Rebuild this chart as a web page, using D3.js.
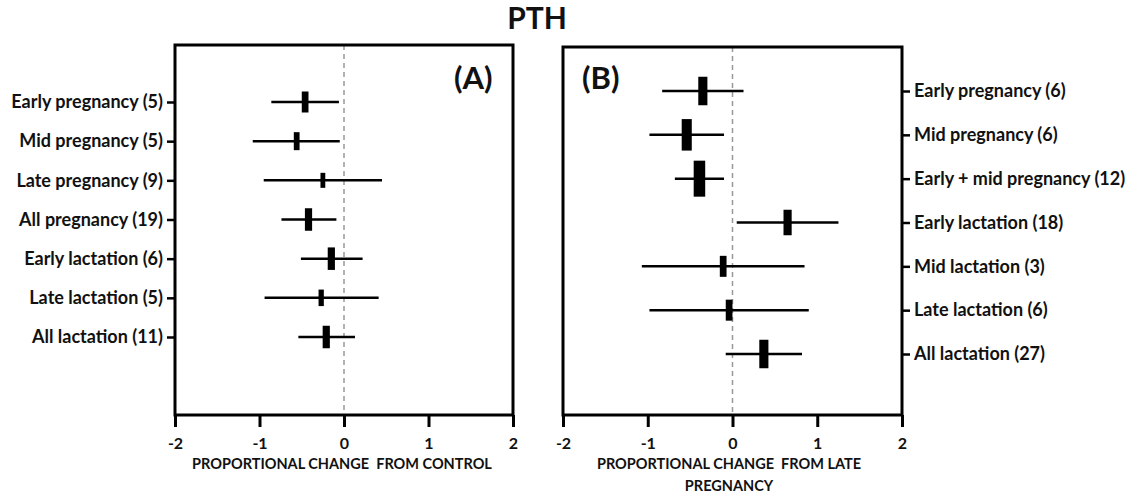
<html>
<head><meta charset="utf-8"></head>
<script src="https://d3js.org/d3.v7.min.js"></script>
<style>
  body { margin: 0; background: #fff; }
  text { font-family: Lato, "Open Sans", sans-serif; font-weight: bold; fill: #111; }
</style>
<body>
<svg id="chart" width="1131" height="495"></svg>
<script>
// Panel A: change from control
var groupsA = ["Early pregnancy (5)", "Mid pregnancy (5)", "Late pregnancy (9)", "All pregnancy (19)",
               "Early lactation (6)", "Late lactation (5)", "All lactation (11)"];
var estA   = [-0.46, -0.56, -0.25, -0.42, -0.15, -0.27, -0.21];
var lowA   = [-0.86, -1.08, -0.95, -0.74, -0.51, -0.94, -0.54];
var highA  = [-0.06, -0.05,  0.45, -0.09,  0.22,  0.41,  0.13];
var weightA = [14, 12, 10, 15, 15, 11, 15];

// Panel B: change from late pregnancy
var groupsB = ["Early pregnancy (6)", "Mid pregnancy (6)", "Early + mid pregnancy (12)", "Early lactation (18)",
               "Mid lactation (3)", "Late lactation (6)", "All lactation (27)"];
var estB   = [-0.35, -0.54, -0.39,  0.65, -0.11, -0.04,  0.37];
var lowB   = [-0.83, -0.98, -0.68,  0.05, -1.07, -0.98, -0.08];
var highB  = [ 0.13, -0.10, -0.10,  1.25,  0.85,  0.90,  0.82];
var weightB = [19, 21, 24, 17, 14, 14, 19];

var xTicks = [-2, -1, 0, 1, 2];

var svg = d3.select("#chart");

svg.append("text")
  .attr("x", 537).attr("y", 29)
  .attr("text-anchor", "middle")
  .style("font-size", "30px")
  .text("PTH");

var hScale = d3.scaleLinear().domain([0, 10]).range([0, 15]);

function panel(opt) {
  var x = d3.scaleLinear().domain([-2, 2]).range([opt.left, opt.right]);
  var y = d3.scalePoint().domain(opt.groups).range(opt.rows);
  var g = svg.append("g");

  // zero reference line
  g.append("line")
    .attr("x1", x(0)).attr("x2", x(0))
    .attr("y1", opt.top).attr("y2", opt.bottom)
    .attr("stroke", "#999").attr("stroke-width", 1.5)
    .attr("stroke-dasharray", "5,4");

  var rows = g.selectAll(".row").data(opt.groups).enter().append("g");
  rows.append("line")
    .attr("x1", function(d, i) { return x(opt.low[i]); })
    .attr("x2", function(d, i) { return x(opt.high[i]); })
    .attr("y1", function(d) { return y(d); })
    .attr("y2", function(d) { return y(d); })
    .attr("stroke", "#000").attr("stroke-width", 2.5);
  rows.append("rect")
    .attr("x", function(d, i) { return x(opt.est[i]) - hScale(opt.weight[i]) * 0.16; })
    .attr("width", function(d, i) { return hScale(opt.weight[i]) * 0.32; })
    .attr("y", function(d, i) { return y(d) - hScale(opt.weight[i]) / 2; })
    .attr("height", function(d, i) { return hScale(opt.weight[i]); })
    .attr("fill", "#000");

  // frame
  g.append("rect")
    .attr("x", opt.left).attr("y", opt.top)
    .attr("width", opt.right - opt.left).attr("height", opt.bottom - opt.top)
    .attr("fill", "none").attr("stroke", "#000").attr("stroke-width", 3);

  // x axis
  var xa = g.append("g")
    .attr("transform", "translate(0," + opt.bottom + ")")
    .call(d3.axisBottom(x).tickValues(xTicks).tickSize(12).tickPadding(11).tickFormat(function(d) { return String(d); }));
  xa.select(".domain").remove();
  xa.selectAll(".tick line").attr("stroke", "#000").attr("stroke-width", 3);
  xa.selectAll("text").style("font-size", "16px").style("font-family", "Lato").style("font-weight", "bold").attr("fill", "#111");

  // y axis
  var ya = g.append("g")
    .attr("transform", "translate(" + (opt.side === "left" ? opt.left : opt.right) + ",0)")
    .call((opt.side === "left" ? d3.axisLeft(y) : d3.axisRight(y)).tickSize(8).tickPadding(4));
  ya.select(".domain").remove();
  ya.selectAll(".tick line").attr("stroke", "#000").attr("stroke-width", 2.5);
  ya.selectAll("text").style("font-size", "18px").style("font-family", "Lato").style("font-weight", "bold").attr("fill", "#111");

  // panel letter
  g.append("text")
    .attr("x", opt.letterX).attr("y", 89)
    .style("font-size", "31px")
    .text(opt.letter);

  // axis title
  opt.title.forEach(function(t, i) {
    g.append("text")
      .attr("x", opt.titleX).attr("y", 469 + i * 22)
      .attr("text-anchor", "middle")
      .style("font-size", "14.5px")
      .text(t);
  });
}

panel({ groups: groupsA, est: estA, low: lowA, high: highA, weight: weightA,
        left: 175, right: 513, top: 45, bottom: 415, rows: [102, 337],
        side: "left", letter: "(A)", letterX: 454,
        title: ["PROPORTIONAL CHANGE\u00a0 FROM CONTROL"], titleX: 342 });

panel({ groups: groupsB, est: estB, low: lowB, high: highB, weight: weightB,
        left: 563, right: 902, top: 47, bottom: 415, rows: [91, 354],
        side: "right", letter: "(B)", letterX: 582,
        title: ["PROPORTIONAL CHANGE\u00a0 FROM LATE", "PREGNANCY"], titleX: 729 });
</script>
</body>
</html>
